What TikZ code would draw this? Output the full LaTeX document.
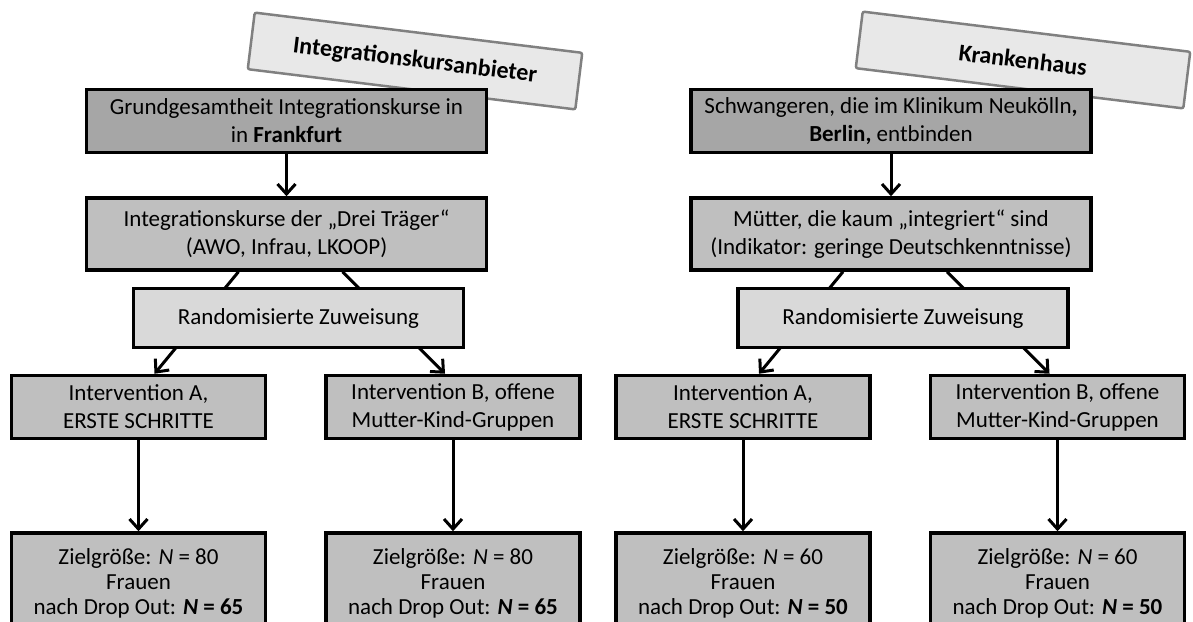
\documentclass[tikz,border=0pt]{standalone}
\usepackage{fontspec}
\setmainfont{Carlito}
\usetikzlibrary{arrows.meta, positioning, calc}
\definecolor{grauDunkel}{gray}{0.65}
\definecolor{grauMittel}{gray}{0.75}
\definecolor{grauHell}{gray}{0.85}
\definecolor{grauEtikett}{gray}{0.91}
\definecolor{randEtikett}{gray}{0.5}

\begin{document}
\begin{tikzpicture}[
  x=1pt, y=-1pt,
  font=\fontsize{23}{28}\selectfont,
  kasten/.style={draw=black, line width=3.5pt, align=center, inner sep=1pt,
                 fill=grauMittel, minimum height=63pt},
  breit/.style={kasten, minimum width=400pt},
  zweig/.style={kasten, minimum width=254pt},
  ziel/.style={zweig, minimum height=100pt, font=\fontsize{23}{25}\selectfont},
  zufall/.style={kasten, fill=grauHell, minimum width=330pt, minimum height=59pt},
  etikett/.style={draw=randEtikett, fill=grauEtikett, line width=2.5pt,
                  rounded corners=2pt, minimum width=330pt, minimum height=57pt,
                  rotate=-7, font=\bfseries\fontsize{24}{26}\selectfont},
  pfeil/.style={-{Straight Barb[length=10pt, width=18pt]}, line width=3pt}
]
\useasboundingbox (0,0) rectangle (1193,621);
\clip (0,0) rectangle (1193,621);

% Etiketten liegen hinter den obersten Kaesten.
\node[etikett] (anbieter) at (415,61) {Integrationskursanbieter};
\node[etikett] (klinik) at (1023,60) {Krankenhaus};

% Linke Seite: Integrationskurse
\node[breit, fill=grauDunkel] (gg1) at (286.5,121)
  {Grundgesamtheit Integrationskurse in\\in \textbf{Frankfurt}};
\node[breit, minimum height=72pt, below=42pt of gg1] (tr1)
  {Integrationskurse der „Drei Träger“\\(AWO, Infrau, LKOOP)};
\node[zweig] (ia1) at (138.5,407) {Intervention A,\\ERSTE SCHRITTE};
\node[zweig] (ib1) at (453,407) {Intervention B, offene\\Mutter-Kind-Gruppen};
\node[ziel, below=91pt of ia1.south, anchor=north] (za1)
  {Zielgröße: \textit{N} = 80\\Frauen\\nach Drop Out: \textbf{\textit{N} = 65}};
\node[ziel, below=91pt of ib1.south, anchor=north] (zb1)
  {Zielgröße: \textit{N} = 80\\Frauen\\nach Drop Out: \textbf{\textit{N} = 65}};

\draw[pfeil] (gg1) -- (tr1);
\draw[pfeil] ([xshift=-48pt]tr1.south) -- ([xshift=16pt]ia1.north);
\draw[pfeil] ([xshift=56pt]tr1.south) -- ([xshift=-8pt]ib1.north);
\draw[pfeil] (ia1) -- (za1);
\draw[pfeil] (ib1) -- (zb1);
\node[zufall, below=15pt of tr1, xshift=12pt] (rz1) {Randomisierte Zuweisung};

% Rechte Seite: Krankenhaus
\node[breit, fill=grauDunkel] (gg2) at (891,121)
  {Schwangeren, die im Klinikum Neukölln\textbf{,}\\\textbf{Berlin,} entbinden};
\node[breit, minimum height=72pt, below=42pt of gg2] (tr2)
  {Mütter, die kaum „integriert“ sind\\(Indikator: geringe Deutschkenntnisse)};
\node[zweig] (ia2) at (743,407) {Intervention A,\\ERSTE SCHRITTE};
\node[zweig] (ib2) at (1057.5,407) {Intervention B, offene\\Mutter-Kind-Gruppen};
\node[ziel, below=91pt of ia2.south, anchor=north] (za2)
  {Zielgröße: \textit{N} = 60\\Frauen\\nach Drop Out: \textbf{\textit{N} = 50}};
\node[ziel, below=91pt of ib2.south, anchor=north] (zb2)
  {Zielgröße: \textit{N} = 60\\Frauen\\nach Drop Out: \textbf{\textit{N} = 50}};

\draw[pfeil] (gg2) -- (tr2);
\draw[pfeil] ([xshift=-48pt]tr2.south) -- ([xshift=16pt]ia2.north);
\draw[pfeil] ([xshift=56pt]tr2.south) -- ([xshift=-8pt]ib2.north);
\draw[pfeil] (ia2) -- (za2);
\draw[pfeil] (ib2) -- (zb2);
\node[zufall, below=15pt of tr2, xshift=12pt] (rz2) {Randomisierte Zuweisung};

\end{tikzpicture}
\end{document}
